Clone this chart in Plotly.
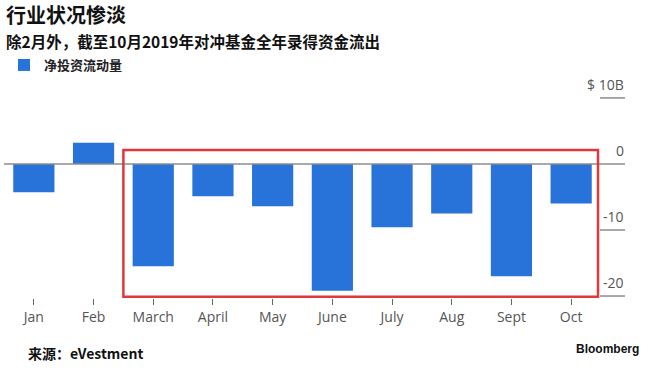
import plotly.graph_objects as go

# ---- data ----
months = ["Jan", "Feb", "March", "April", "May", "June", "July", "Aug", "Sept", "Oct"]
net_flows = [-4.3, 3.2, -15.5, -4.9, -6.4, -19.2, -9.6, -7.5, -17.0, -6.0]
y_tick_vals = [10, 0, -10, -20]
y_tick_text = ["$ 10B", "0", "-10", "-20"]
highlight_first = "March"
highlight_last = "Oct"

title_text = "行业状况惨淡"
subtitle_text = "除2月外，截至10月2019年对冲基金全年录得资金流出"
legend_name = "净投资流动量"
source_text = "来源：eVestment"

# ---- style ----
BLUE = "#2873d9"
RED = "#e0393d"
GREY_LINE = "#8c8c8c"
GREY_TEXT = "#555555"
CJK = "Noto Sans CJK SC"
LATIN = "Open Sans"

fig = go.Figure()
fig.add_trace(go.Bar(
    x=months, y=net_flows, name=legend_name,
    marker=dict(color=BLUE, line=dict(width=0)),
    showlegend=True,
))

W, H = 650, 372
ml, mr, mt, mb = 4, 49, 90, 74
pw = W - ml - mr
ph = H - mt - mb

def px_to_paper_x(px):
    return (px - ml) / pw

def px_to_paper_y(py):
    return (H - mb - py) / ph

shapes = []
annotations = []

# y-axis: Bloomberg style labels above short lines on the right
for v, t in zip(y_tick_vals, y_tick_text):
    x0 = px_to_paper_x(4) if v == 0 else px_to_paper_x(600)
    shapes.append(dict(type="line", xref="paper", yref="y",
                       x0=x0, x1=px_to_paper_x(625), y0=v, y1=v,
                       line=dict(color=GREY_LINE, width=1.5), layer="above"))
    annotations.append(dict(xref="paper", yref="y", x=px_to_paper_x(626), y=v,
                            text=t, showarrow=False, xanchor="right", yanchor="bottom",
                            yshift=2, font=dict(family=LATIN, size=14, color=GREY_TEXT)))

# red highlight box (March .. Oct)
i0 = months.index(highlight_first)
i1 = months.index(highlight_last)
shapes.append(dict(type="rect", xref="x", yref="y",
                   x0=i0 - 0.5, x1=i1 + 0.45, y0=2.1, y1=-20.1,
                   line=dict(color=RED, width=2.5), fillcolor="rgba(0,0,0,0)", layer="above"))

# title + subtitle
annotations.append(dict(xref="paper", yref="paper", x=px_to_paper_x(4), y=px_to_paper_y(14.5),
                        text="<b>" + title_text + "</b>", showarrow=False,
                        xanchor="left", yanchor="middle",
                        font=dict(family=CJK, size=20, color="#111111")))
annotations.append(dict(xref="paper", yref="paper", x=px_to_paper_x(4), y=px_to_paper_y(40.5),
                        text="<b>" + subtitle_text + "</b>", showarrow=False,
                        xanchor="left", yanchor="middle",
                        font=dict(family=CJK, size=15.5, color="#111111")))
# source
annotations.append(dict(xref="paper", yref="paper", x=px_to_paper_x(26), y=px_to_paper_y(353),
                        text="<b>" + source_text + "</b>", showarrow=False,
                        xanchor="left", yanchor="middle",
                        font=dict(family=CJK, size=14, color="#111111")))
annotations.append(dict(xref="paper", yref="paper", x=px_to_paper_x(641), y=px_to_paper_y(349),
                        text="<b>Bloomberg</b>", showarrow=False,
                        xanchor="right", yanchor="middle",
                        font=dict(family="Liberation Sans", size=12, color="#111111")))

fig.update_layout(
    width=W, height=H,
    margin=dict(l=ml, r=mr, t=mt, b=mb, pad=0),
    paper_bgcolor="white", plot_bgcolor="white",
    bargap=0.31,
    showlegend=True,
    legend=dict(x=0, xanchor="left", y=1 - 65 / H, yref="container", yanchor="middle",
                font=dict(family=CJK, size=13, color="#222222", weight="bold"),
                bgcolor="rgba(0,0,0,0)", itemclick=False),
    xaxis=dict(showgrid=False, zeroline=False, showline=False,
               ticks="outside", ticklen=6, tickwidth=1, tickcolor="#666666",
               tickfont=dict(family=LATIN, size=14, color=GREY_TEXT),
               range=[-0.5, len(months) - 0.5]),
    yaxis=dict(range=[-20.3, 11.2], showgrid=False, zeroline=False, showline=False,
               showticklabels=False, ticks=""),
    shapes=shapes,
    annotations=annotations,
)

# remove the default 8px page margin so the 650x372 figure fills the window
fig.write_html("out.html", config={"displayModeBar": False},
               post_script="document.body.style.margin='0';document.body.style.overflow='hidden';")
